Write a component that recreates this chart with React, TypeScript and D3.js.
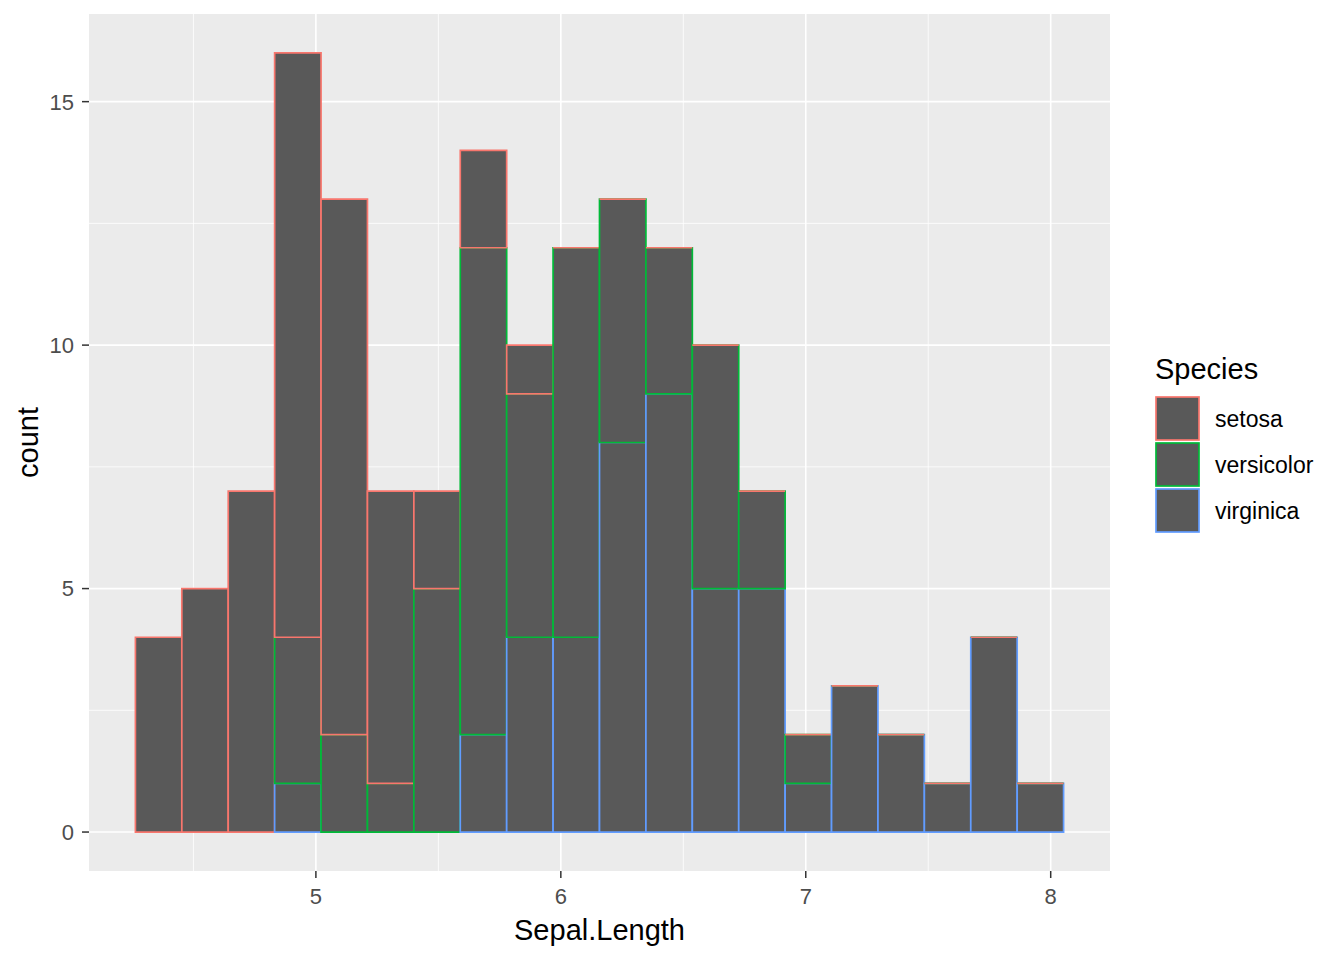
import React from "react";
import * as d3 from "d3";

// Histogram of iris Sepal.Length, 20 bins, stacked by species
const species = ["setosa", "versicolor", "virginica"];
const speciesColors = ["#F8766D", "#00BA38", "#619CFF"];
const xMin = 4.3;
const xMax = 7.9;
const binCount = 20;
const setosaCounts = [4, 5, 7, 12, 11, 6, 2, 2, 1, 0, 0, 0, 0, 0, 0, 0, 0, 0, 0, 0];
const versicolorCounts = [0, 0, 0, 3, 2, 1, 5, 10, 5, 8, 5, 3, 5, 2, 1, 0, 0, 0, 0, 0];
const virginicaCounts = [0, 0, 0, 1, 0, 0, 0, 2, 4, 4, 8, 9, 5, 5, 1, 3, 2, 1, 4, 1];
const xTicks = [5, 6, 7, 8];
const xMinorTicks = [4.5, 5.5, 6.5, 7.5];
const yTicks = [0, 5, 10, 15];
const yMinorTicks = [2.5, 7.5, 12.5];

const W = 1344;
const H = 960;
const panel = { left: 89, right: 1110, top: 14, bottom: 871 };
const FONT = "'Liberation Sans', Arial, sans-serif";

export default function App() {
  const binWidth = (xMax - xMin) / (binCount - 1);
  const boundary = binWidth / 2;
  const shift = Math.floor((xMin - boundary) / binWidth);
  const origin = boundary + shift * binWidth;
  const breaks = d3.range(binCount + 1).map((i) => origin + i * binWidth);

  const countsBySpecies = [setosaCounts, versicolorCounts, virginicaCounts];
  const totals = breaks.slice(0, binCount).map((_, i) =>
    countsBySpecies.reduce((s, c) => s + c[i], 0)
  );
  const yMaxData = d3.max(totals) as number;

  const dx = breaks[binCount] - breaks[0];
  const x = d3
    .scaleLinear()
    .domain([breaks[0] - dx * 0.05, breaks[binCount] + dx * 0.05])
    .range([panel.left, panel.right]);
  const y = d3
    .scaleLinear()
    .domain([-yMaxData * 0.05, yMaxData * 1.05])
    .range([panel.bottom, panel.top]);

  // stacking: virginica bottom, then versicolor, then setosa; draw order per bin
  const rects: { x0: number; x1: number; y0: number; y1: number; color: string; key: string }[] = [];
  for (let i = 0; i < binCount; i++) {
    let base = 0;
    for (let g = species.length - 1; g >= 0; g--) {
      const c = countsBySpecies[g][i];
      rects.push({
        x0: breaks[i],
        x1: breaks[i + 1],
        y0: base,
        y1: base + c,
        color: speciesColors[g],
        key: `${i}-${g}`,
      });
      base += c;
    }
  }

  const rectPath = (x0: number, x1: number, y0: number, y1: number) => {
    const p = d3.path();
    p.moveTo(x0, y0);
    p.lineTo(x1, y0);
    p.lineTo(x1, y1);
    p.lineTo(x0, y1);
    p.closePath();
    return p.toString();
  };

  const legendX = 1156;
  const legendY0 = 397;
  const keyStep = 46;
  const keySize = 43;

  return (
    <svg
      width={W}
      height={H}
      style={{ position: "absolute", left: 0, top: 0, background: "#FFFFFF" }}
      fontFamily={FONT}
    >
      <rect x={0} y={0} width={W} height={H} fill="#FFFFFF" />
      <rect
        x={panel.left}
        y={panel.top}
        width={panel.right - panel.left}
        height={panel.bottom - panel.top}
        fill="#EBEBEB"
      />
      {xMinorTicks.map((t) => (
        <line key={`xm${t}`} x1={x(t)} x2={x(t)} y1={panel.top} y2={panel.bottom} stroke="#FFFFFF" strokeWidth={0.8} />
      ))}
      {yMinorTicks.map((t) => (
        <line key={`ym${t}`} x1={panel.left} x2={panel.right} y1={y(t)} y2={y(t)} stroke="#FFFFFF" strokeWidth={0.8} />
      ))}
      {xTicks.map((t) => (
        <line key={`xM${t}`} x1={x(t)} x2={x(t)} y1={panel.top} y2={panel.bottom} stroke="#FFFFFF" strokeWidth={1.6} />
      ))}
      {yTicks.map((t) => (
        <line key={`yM${t}`} x1={panel.left} x2={panel.right} y1={y(t)} y2={y(t)} stroke="#FFFFFF" strokeWidth={1.6} />
      ))}

      {rects.map((r) => (
        <path
          key={r.key}
          d={rectPath(x(r.x0), x(r.x1), y(r.y0), y(r.y1))}
          fill="#595959"
          stroke={r.color}
          strokeWidth={1.7}
          strokeLinejoin="miter"
        />
      ))}

      {/* x axis */}
      {xTicks.map((t) => (
        <g key={`xt${t}`}>
          <line x1={x(t)} x2={x(t)} y1={panel.bottom} y2={panel.bottom + 7} stroke="#333333" strokeWidth={1.5} />
          <text x={x(t)} y={904} textAnchor="middle" fontSize={22} fill="#4D4D4D">
            {t}
          </text>
        </g>
      ))}
      {/* y axis */}
      {yTicks.map((t) => (
        <g key={`yt${t}`}>
          <line x1={panel.left - 7} x2={panel.left} y1={y(t)} y2={y(t)} stroke="#333333" strokeWidth={1.5} />
          <text x={74} y={y(t)} dy="0.36em" textAnchor="end" fontSize={22} fill="#4D4D4D">
            {t}
          </text>
        </g>
      ))}
      <text x={(panel.left + panel.right) / 2} y={940} textAnchor="middle" fontSize={29} fill="#000000">
        Sepal.Length
      </text>
      <text
        transform={`translate(38, ${(panel.top + panel.bottom) / 2}) rotate(-90)`}
        textAnchor="middle"
        fontSize={29}
        fill="#000000"
      >
        count
      </text>

      {/* legend */}
      <text x={1155} y={379} fontSize={29} fill="#000000">
        Species
      </text>
      {species.map((s, i) => (
        <g key={s}>
          <rect
            x={legendX}
            y={legendY0 + i * keyStep}
            width={keySize}
            height={keySize}
            fill="#595959"
            stroke={speciesColors[i]}
            strokeWidth={1.7}
          />
          <text
            x={1215}
            y={legendY0 + i * keyStep + keySize / 2}
            dy="0.36em"
            fontSize={23}
            fill="#000000"
          >
            {s}
          </text>
        </g>
      ))}
    </svg>
  );
}
